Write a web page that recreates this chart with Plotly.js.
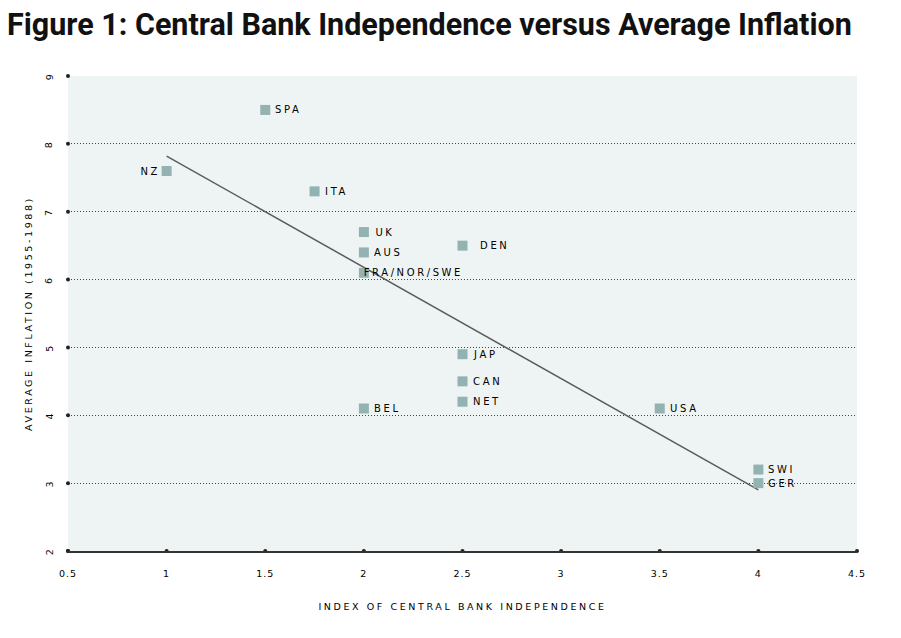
<!DOCTYPE html>
<html>
<head>
<meta charset="utf-8">
<script src="https://cdn.plot.ly/plotly-3.0.1.min.js"></script>
<style>
body { margin:0; background:#fff; }
#chart .g-xtitle text, #chart .g-ytitle text { letter-spacing: 2.6px; }
#chart .annotation text { letter-spacing: 2.6px; }
#chart .xtick text, #chart .ytick text { letter-spacing: 1px; }
</style>
</head>
<body>
<div id="chart" style="width:901px;height:638px;"></div>
<script>
// Data
var countries = ["SPA","NZ","ITA","UK","AUS","FRA/NOR/SWE","DEN","JAP","CAN","NET","BEL","USA","SWI","GER"];
var independence = [1.5, 1.0, 1.75, 2.0, 2.0, 2.0, 2.5, 2.5, 2.5, 2.5, 2.0, 3.5, 4.0, 4.0];
var inflation = [8.5, 7.6, 7.3, 6.7, 6.4, 6.1, 6.5, 4.9, 4.5, 4.2, 4.1, 4.1, 3.2, 3.0];
var fitX = [1.0, 4.0];
var fitY = [7.82, 2.9];
var xTicks = [0.5, 1, 1.5, 2, 2.5, 3, 3.5, 4, 4.5];
var yTicks = [2, 3, 4, 5, 6, 7, 8, 9];

var labelFont = {family: "DejaVu Sans", size: 10, color: "#000"};

var annotations = countries.map(function(c, i){
  var left = (c === "NZ");
  var extra = (c === "DEN") ? 19 : 12;
  return {
    x: independence[i], y: inflation[i], xref: "x", yref: "y",
    text: c, showarrow: false,
    xanchor: left ? "right" : "left", yanchor: "middle",
    xshift: left ? -8 : extra, yshift: 0,
    font: labelFont
  };
});

// rotated y tick labels
yTicks.forEach(function(v){
  annotations.push({
    x: 0, y: v, xref: "paper", yref: "y",
    text: String(v), showarrow: false, textangle: -90,
    xanchor: "center", yanchor: "middle", xshift: -19,
    font: {family: "DejaVu Sans", size: 9.5, color: "#000"}
  });
});

var traces = [
  {
    x: fitX, y: fitY, mode: "lines", type: "scatter",
    line: {color: "#5a5a5a", width: 1.5}, hoverinfo: "skip", showlegend: false
  },
  {
    x: independence, y: inflation, text: countries, mode: "markers", type: "scatter",
    marker: {symbol: "square", size: 10, color: "#93b2b2"},
    showlegend: false, cliponaxis: false
  },
  {
    x: xTicks, y: xTicks.map(function(){ return 2; }), mode: "markers", type: "scatter",
    marker: {size: 4, color: "#222"}, showlegend: false, cliponaxis: false, hoverinfo: "skip"
  },
  {
    x: yTicks.map(function(){ return 0.5; }), y: yTicks, mode: "markers", type: "scatter",
    marker: {size: 4, color: "#222"}, showlegend: false, cliponaxis: false, hoverinfo: "skip"
  }
];

var layout = {
  width: 901, height: 638,
  paper_bgcolor: "#ffffff",
  plot_bgcolor: "#eef4f4",
  margin: {l: 68, r: 44, t: 76, b: 87},
  annotations: annotations,
  title: {
    text: "<b>Figure 1: Central Bank Independence versus Average Inflation</b>",
    x: 7/901, xanchor: "left", xref: "container",
    y: 1 - 24/638, yanchor: "middle", yref: "container",
    font: {family: "Roboto", size: 30.5, color: "#111"}
  },
  xaxis: {
    range: [0.5, 4.5], tickvals: xTicks, ticktext: xTicks.map(String),
    showgrid: false, zeroline: false,
    showline: true, linecolor: "#333", linewidth: 2,
    ticks: "", ticklabelstandoff: 13,
    tickfont: {family: "DejaVu Sans", size: 9.5, color: "#000"},
    title: {text: "INDEX OF CENTRAL BANK INDEPENDENCE", standoff: 25,
            font: {family: "DejaVu Sans", size: 9.5, color: "#000"}}
  },
  yaxis: {
    range: [2, 9], tickvals: yTicks,
    showticklabels: false,
    showgrid: true, gridcolor: "#444", gridwidth: 1, griddash: "1px,2px",
    zeroline: false, showline: false,
    ticks: "",
    title: {text: "AVERAGE INFLATION (1955-1988)", standoff: 32,
            font: {family: "DejaVu Sans", size: 9.5, color: "#000"}}
  }
};

Plotly.newPlot("chart", traces, layout, {displayModeBar: false});
</script>
</body>
</html>
